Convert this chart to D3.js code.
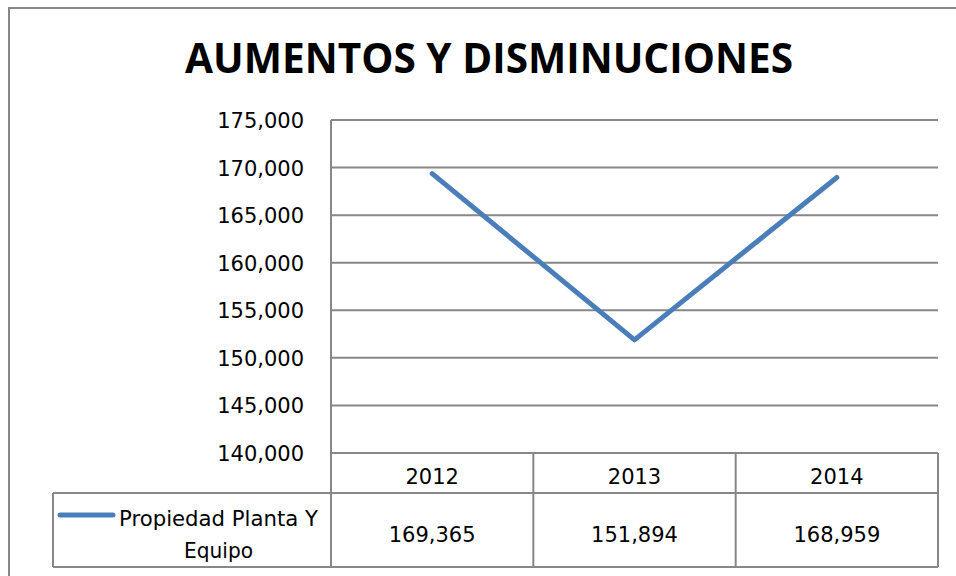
<!DOCTYPE html>
<html>
<head>
<meta charset="utf-8">
<script src="https://cdn.jsdelivr.net/npm/d3@7"></script>
<style>
  body { margin: 0; background: #fff; }
  svg { display: block; }
  text { font-family: "DejaVu Sans", sans-serif; fill: #000; }
</style>
</head>
<body>
<svg width="956" height="576"></svg>
<script>
const title = 'AUMENTOS Y DISMINUCIONES';
const seriesName = ['Propiedad Planta Y', 'Equipo'];
const years = ['2012', '2013', '2014'];
const values = [169365, 151894, 168959];
const yTicks = [140000, 145000, 150000, 155000, 160000, 165000, 170000, 175000];

const svg = d3.select('svg');
const width = +svg.attr('width');
const height = +svg.attr('height');
const grey = '#878787';
const blue = '#4a7ebb';
const fmt = d3.format(',');

// plot box
const plotLeft = 331, plotRight = 938, plotTop = 120, plotBottom = 453;
const tableTop = plotBottom, rowSplit = 493, tableBottom = 567, legendLeft = 53;

svg.append('rect')
  .attr('width', width).attr('height', height).attr('fill', '#fff');

// outer chart frame (only left/top visible)
svg.append('rect')
  .attr('x', 9).attr('y', 8)
  .attr('width', width + 20).attr('height', height + 20)
  .attr('fill', 'none').attr('stroke', grey).attr('stroke-width', 2);

svg.append('text')
  .attr('x', 489).attr('y', 73)
  .attr('text-anchor', 'middle')
  .attr('textLength', 608)
  .attr('lengthAdjust', 'spacingAndGlyphs')
  .style('font-family', '"Open Sans", sans-serif')
  .style('font-weight', 'bold')
  .style('font-size', '41px')
  .text(title);

const xScale = d3.scaleBand()
  .domain(years)
  .range([plotLeft, plotRight]);

const yScale = d3.scaleLinear()
  .domain([140000, 175000])
  .range([plotBottom, plotTop]);

// gridlines
svg.append('g')
  .selectAll('line')
  .data(yTicks)
  .join('line')
    .attr('x1', plotLeft).attr('x2', plotRight)
    .attr('y1', (d) => yScale(d)).attr('y2', (d) => yScale(d))
    .attr('stroke', grey).attr('stroke-width', 2);

// y tick labels
svg.append('g')
  .selectAll('text')
  .data(yTicks)
  .join('text')
    .attr('x', 304)
    .attr('y', (d) => yScale(d) + 8)
    .attr('text-anchor', 'end')
    .style('font-size', '21px')
    .text((d) => fmt(d));

// data table lines
const table = svg.append('g')
  .attr('stroke', grey).attr('stroke-width', 2);
table.append('line')
  .attr('x1', plotLeft).attr('x2', plotLeft).attr('y1', plotTop).attr('y2', tableBottom);
table.selectAll('line.col')
  .data(years)
  .join('line')
    .attr('class', 'col')
    .attr('x1', (d) => xScale(d) + xScale.bandwidth())
    .attr('x2', (d) => xScale(d) + xScale.bandwidth())
    .attr('y1', tableTop).attr('y2', tableBottom);
table.append('line')
  .attr('x1', legendLeft).attr('x2', plotRight).attr('y1', rowSplit).attr('y2', rowSplit);
table.append('line')
  .attr('x1', legendLeft).attr('x2', plotRight).attr('y1', tableBottom).attr('y2', tableBottom);
table.append('line')
  .attr('x1', legendLeft).attr('x2', legendLeft).attr('y1', rowSplit).attr('y2', tableBottom);

// category labels
svg.append('g')
  .selectAll('text')
  .data(years)
  .join('text')
    .attr('x', (d) => xScale(d) + xScale.bandwidth() / 2)
    .attr('y', 483.5)
    .attr('text-anchor', 'middle')
    .style('font-size', '21px')
    .text((d) => d);

// values row
svg.append('g')
  .selectAll('text')
  .data(values)
  .join('text')
    .attr('x', (d, i) => xScale(years[i]) + xScale.bandwidth() / 2)
    .attr('y', 541.5)
    .attr('text-anchor', 'middle')
    .style('font-size', '21px')
    .text((d) => fmt(d));

// legend key
svg.append('line')
  .attr('x1', 60).attr('x2', 113).attr('y1', 515).attr('y2', 515)
  .attr('stroke', blue).attr('stroke-width', 5).attr('stroke-linecap', 'round');
svg.append('text')
  .attr('x', 119).attr('y', 525.5)
  .attr('textLength', 199)
  .attr('lengthAdjust', 'spacingAndGlyphs')
  .style('font-size', '21px')
  .text(seriesName[0]);
svg.append('text')
  .attr('x', 218.5).attr('y', 557.5)
  .attr('text-anchor', 'middle')
  .attr('textLength', 69)
  .attr('lengthAdjust', 'spacingAndGlyphs')
  .style('font-size', '21px')
  .text(seriesName[1]);

// series line
const line = d3.line()
  .x((d, i) => xScale(years[i]) + xScale.bandwidth() / 2)
  .y((d) => yScale(d));
svg.append('path')
  .datum(values)
  .attr('d', line)
  .attr('fill', 'none')
  .attr('stroke', blue)
  .attr('stroke-width', 5)
  .attr('stroke-linecap', 'round')
  .attr('stroke-linejoin', 'round');
</script>
</body>
</html>
